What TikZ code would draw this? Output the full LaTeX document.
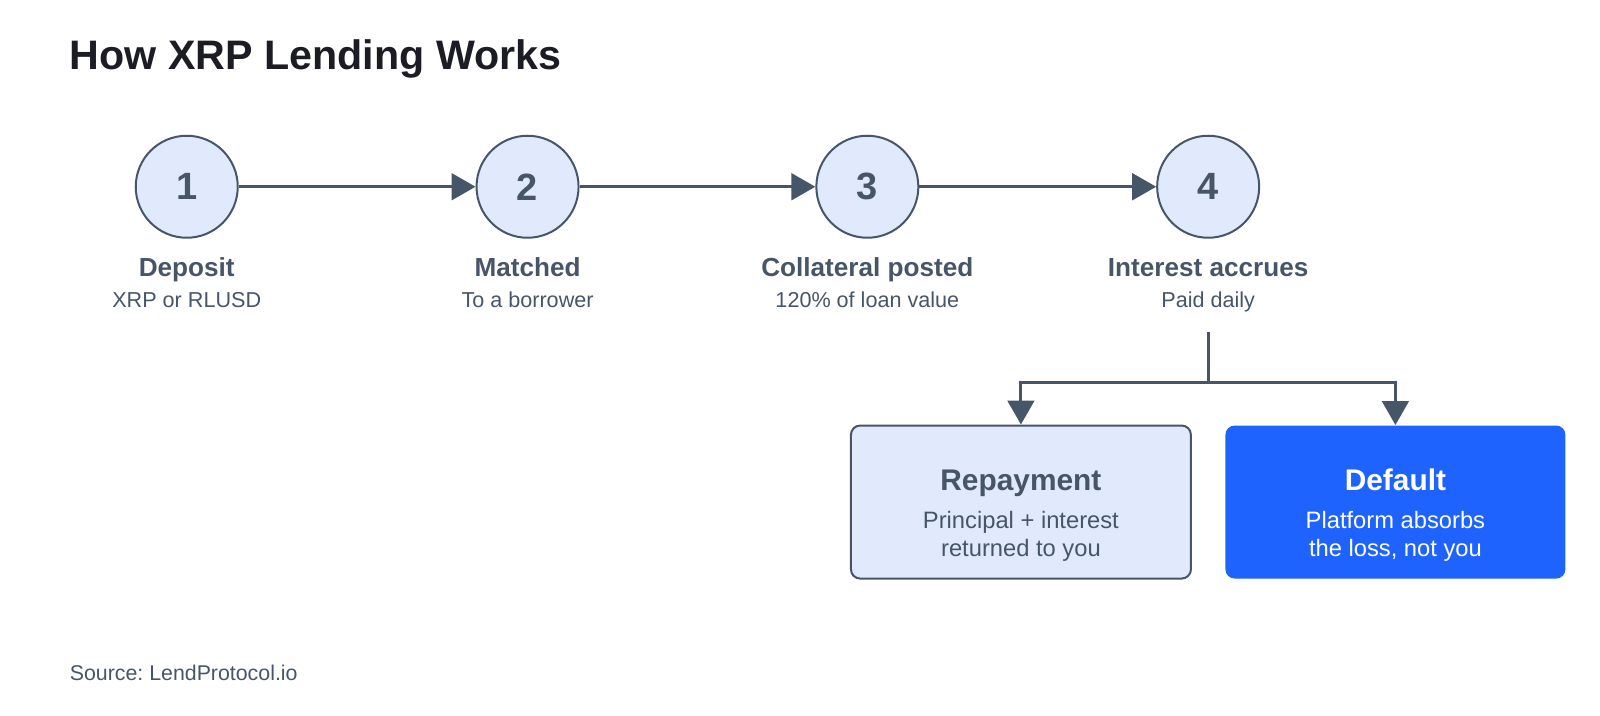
\documentclass[tikz,border=0pt]{standalone}
\usepackage{fontspec}
\setmainfont{Liberation Sans}
\usetikzlibrary{arrows.meta}
\frenchspacing

\definecolor{slate}{HTML}{475569}
\definecolor{paleblue}{HTML}{E1EAFD}
\definecolor{brightblue}{HTML}{1F63FF}
\definecolor{inkdark}{HTML}{1C1C24}

\tikzset{every picture/.style={line width=0.75pt}}
\tikzset{
  stepcircle/.style={circle, draw=slate, line width=1.5pt, fill=paleblue, minimum size=76.5pt, inner sep=0pt, text=slate, font=\fontsize{28.5}{30}\selectfont\bfseries},
  steptitle/.style={text=slate, font=\fontsize{19.6}{22}\selectfont\bfseries, anchor=base},
  stepnote/.style={text=slate, font=\fontsize{16.2}{18}\selectfont, anchor=base},
  flow/.style={draw=slate, line width=2.25pt, -{Triangle[length=18pt,width=20pt]}},
  branch/.style={draw=slate, line width=2.25pt},
  outcome/.style={rounded corners=7pt, minimum width=255pt, minimum height=114.8pt, inner sep=0pt},
}

\begin{document}
\begin{tikzpicture}[x=0.7653pt,y=0.7653pt,yscale=-1,xscale=1]
\useasboundingbox (0,0) rectangle (1568,700.7);

% Title
\node (title) [anchor=base west, inner sep=0pt, text=inkdark, font=\fontsize{30.9}{34}\selectfont\bfseries] at (68,68) {How XRP Lending Works};

%Shape: Circle
\node (c1) [stepcircle] at (183,183) {1};
\node (c2) [stepcircle] at (517,183) {2};
\node (c3) [stepcircle] at (850,183) {3};
\node (c4) [stepcircle] at (1184,183) {4};

%Straight Lines
\draw [flow] (c1) -- (c2);
\draw [flow] (c2) -- (c3);
\draw [flow] (c3) -- (c4);

% Text Node
\node (t1) [steptitle] at (183,271) {Deposit};
\node (n1) [stepnote] at (183,301) {XRP or RLUSD};
\node (t2) [steptitle] at (517,271) {Matched};
\node (n2) [stepnote] at (517,301) {To a borrower};
\node (t3) [steptitle] at (850,271) {Collateral posted};
\node (n3) [stepnote] at (850,301) {120\% of loan value};
\node (t4) [steptitle] at (1184,271) {Interest accrues};
\node (n4) [stepnote] at (1184,301) {Paid daily};

%Shape: Rounded Rectangle
\node (rep) [outcome, draw=slate, line width=1.5pt, fill=paleblue] at (1000.5,492) {};
\node (def) [outcome, fill=brightblue] at (1367.5,492) {};

% Text Node
\node (reptitle) [text=slate, font=\fontsize{22.4}{24}\selectfont\bfseries, anchor=base] at (1000.5,481) {Repayment};
\node (repnote) [text=slate, font=\fontsize{17.8}{20.6}\selectfont, align=center, anchor=base] at (1000.5,545) {Principal + interest\\returned to you};
\node (deftitle) [text=white, font=\fontsize{22.4}{24}\selectfont\bfseries, anchor=base] at (1367.5,481) {Default};
\node (defnote) [text=white, font=\fontsize{17.8}{20.6}\selectfont, align=center, anchor=base] at (1367.5,545) {Platform absorbs\\the loss, not you};

%Straight Lines (split)
\coordinate (top) at (1184,325);
\coordinate (split) at (1184,375);
\draw [branch] (top) -- (split);
\draw [flow] (split) -| (rep.north);
\draw [flow] (split) -| (def.north);

% Text Node
\node (src) [anchor=base west, inner sep=0pt, text=slate, font=\fontsize{16}{18}\selectfont] at (68,667) {Source: LendProtocol.io};

\end{tikzpicture}
\end{document}
